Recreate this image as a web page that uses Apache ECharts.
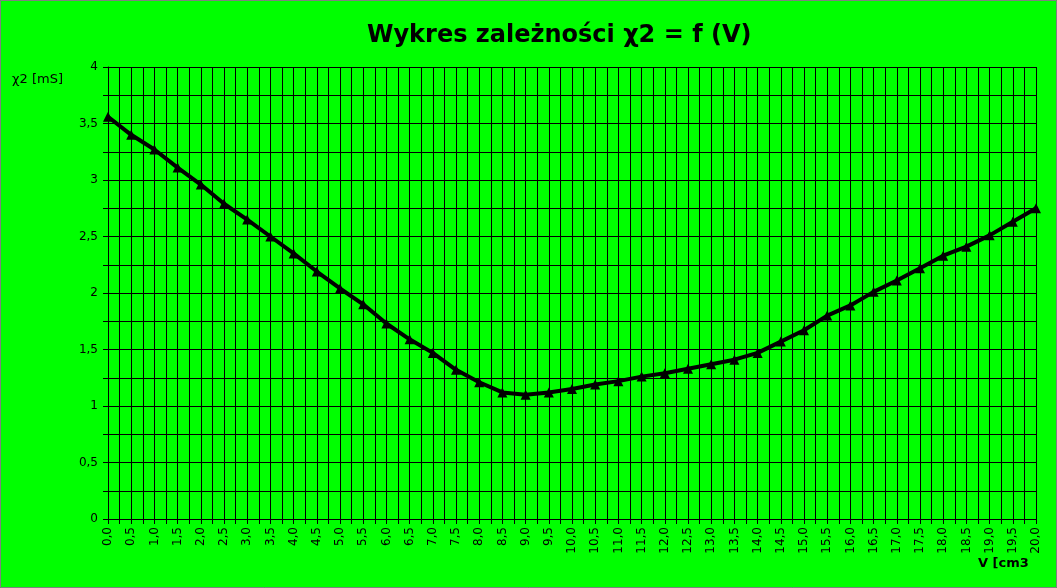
<!DOCTYPE html>
<html><head><meta charset="utf-8">
<script src="https://cdn.jsdelivr.net/npm/echarts@6/dist/echarts.min.js"></script>
<style>html,body{margin:0;padding:0;background:#00ff00}#c{width:1057px;height:588px}</style>
</head><body><div id="c"></div>
<script>
const volumes = [0,0.5,1,1.5,2,2.5,3,3.5,4,4.5,5,5.5,6,6.5,7,7.5,8,8.5,9,9.5,10,10.5,11,11.5,12,12.5,13,13.5,14,14.5,15,15.5,16,16.5,17,17.5,18,18.5,19,19.5,20];
const chi2 = [3.56,3.40,3.27,3.11,2.96,2.79,2.65,2.50,2.35,2.19,2.04,1.90,1.73,1.59,1.47,1.32,1.21,1.12,1.10,1.12,1.15,1.19,1.22,1.26,1.29,1.33,1.37,1.41,1.47,1.57,1.67,1.80,1.89,2.01,2.11,2.22,2.33,2.41,2.51,2.63,2.75];
const titleText = 'Wykres zależności χ2 = f (V)';
const yName = 'χ2 [mS]';
const xName = 'V [cm3';

const chart = echarts.init(document.getElementById('c'), null, {renderer:'canvas'});
const fmtX = v => (Math.abs(v*2 - Math.round(v*2)) < 1e-6) ? v.toFixed(1).replace('.', ',') : '';
const fmtY = v => (Math.abs(v*2 - Math.round(v*2)) < 1e-6) ? String(v).replace('.', ',') : '';
chart.setOption({
  backgroundColor:'#00ff00',
  animation:false,
  title:{text:titleText,left:362,top:19,textStyle:{fontFamily:'DejaVu Sans',fontWeight:'bold',fontSize:24,color:'#000'}},
  graphic:[{type:'rect',shape:{x:0.5,y:0.5,width:1056,height:587},style:{fill:'none',stroke:'#808080',lineWidth:1}},
    {type:'text',left:12,top:73,style:{text:yName,font:'13px "DejaVu Sans"',fill:'#000'}},
    {type:'text',left:978,top:557,style:{text:xName,font:'bold 13px "DejaVu Sans"',fill:'#000'}}],
  grid:{left:108,right:21,top:67,bottom:69,containLabel:false},
  xAxis:{type:'value',min:0,max:20,interval:0.25,
    axisLine:{lineStyle:{color:'#000',width:1}},
    axisTick:{show:true,length:5,lineStyle:{color:'#000'}},
    axisLabel:{rotate:90,formatter:fmtX,color:'#000',fontFamily:'DejaVu Sans',fontSize:12,margin:8,showMinLabel:true,showMaxLabel:true},
    splitLine:{show:true,lineStyle:{color:'#000',width:1}}},
  yAxis:{type:'value',min:0,max:4,interval:0.25,
    axisLine:{show:true,lineStyle:{color:'#000',width:1}},
    axisTick:{show:true,length:5,lineStyle:{color:'#000'}},
    axisLabel:{formatter:fmtY,color:'#000',fontFamily:'DejaVu Sans',fontSize:12,margin:10},
    splitLine:{show:true,lineStyle:{color:'#000',width:1}}},
  series:[{type:'line',data:volumes.map((v,i)=>[v,chi2[i]]),
    symbol:'triangle',symbolSize:10,showAllSymbol:true,
    lineStyle:{color:'#000',width:4},itemStyle:{color:'#000'},clip:false}]
});
</script></body></html>
